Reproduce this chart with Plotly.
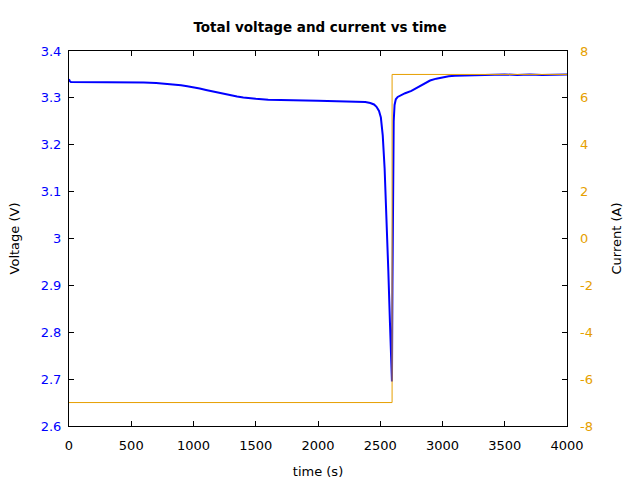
import plotly.graph_objects as go

# Voltage data
time_v = [0, 5, 15, 50, 100, 200, 300, 400, 500, 600, 700, 750, 800, 850, 900, 950,
          1000, 1050, 1100, 1150, 1200, 1250, 1300, 1350, 1400, 1450, 1500, 1600,
          1700, 1800, 2000, 2200, 2300, 2380, 2420, 2450, 2470, 2490, 2505, 2520,
          2535, 2550, 2565, 2578, 2588, 2594, 2598, 2602, 2608, 2615, 2625, 2640,
          2660, 2700, 2750, 2800, 2850, 2900, 2950, 3000, 3050, 3100, 3200, 3300, 3400,
          3500, 3600, 3700, 3800, 3900, 4000]
voltage = [3.340, 3.336, 3.334, 3.334, 3.334, 3.334, 3.333, 3.334, 3.333, 3.333,
           3.332, 3.331, 3.330, 3.329, 3.327, 3.325, 3.323, 3.320, 3.317, 3.314,
           3.311, 3.308, 3.305, 3.303, 3.301, 3.299, 3.298, 3.296, 3.295, 3.295,
           3.294, 3.293, 3.292, 3.291, 3.289, 3.286, 3.281, 3.272, 3.258, 3.220,
           3.150, 3.050, 2.930, 2.820, 2.730, 2.695, 2.900, 3.150, 3.250, 3.285,
           3.297, 3.302, 3.305, 3.310, 3.315, 3.322, 3.330, 3.337, 3.341, 3.344,
           3.346, 3.347, 3.348, 3.349, 3.349, 3.350, 3.349, 3.350, 3.349, 3.350,
           3.350]

# Current data
time_i = [0, 2595, 2595, 4000]
current = [-7, -7, 7, 7]

# Tick labels
x_ticks = [0, 500, 1000, 1500, 2000, 2500, 3000, 3500, 4000]
v_ticks = [2.6, 2.7, 2.8, 2.9, 3.0, 3.1, 3.2, 3.3, 3.4]
v_labels = ["2.6", "2.7", "2.8", "2.9", "3", "3.1", "3.2", "3.3", "3.4"]
i_ticks = [-8, -6, -4, -2, 0, 2, 4, 6, 8]
i_labels = ["-8", "-6", "-4", "-2", "0", "2", "4", "6", "8"]

BLUE = "#0000FF"
ORANGE = "#E69F00"
FONT = "DejaVu Sans"

fig = go.Figure()
fig.add_trace(go.Scatter(x=time_i, y=current, mode="lines", yaxis="y2",
                         line=dict(color=ORANGE, width=1), showlegend=False))
fig.add_trace(go.Scatter(x=time_v, y=voltage, mode="lines",
                         line=dict(color=BLUE, width=2), showlegend=False))

fig.update_layout(
    width=640, height=480,
    margin=dict(l=69, r=73, t=51, b=54, autoexpand=False),
    paper_bgcolor="white", plot_bgcolor="white",
    font=dict(family=FONT, size=13, color="black"),
    title=dict(text="<b>Total voltage and current vs time</b>", x=0.5, xanchor="center",
               y=1 - 27/480, yanchor="middle", font=dict(family=FONT, size=13.5, color="black")),
    xaxis=dict(range=[0, 4000], tickvals=x_ticks, automargin=False,
               ticks="inside", ticklen=5, tickcolor="black", showline=True, linecolor="black",
               linewidth=1, mirror="ticks", showgrid=False, zeroline=False,
               ticklabelstandoff=7,
               title=dict(text="time (s)", standoff=15, font=dict(size=13)),
               tickfont=dict(color="black", size=13)),
    yaxis=dict(range=[2.6, 3.4], tickvals=v_ticks, ticktext=v_labels, automargin=False,
               ticks="inside", ticklen=5, tickcolor="black", showline=True, linecolor="black",
               linewidth=1, mirror=True, showgrid=False, zeroline=False,
               ticklabelstandoff=4,
               tickfont=dict(color=BLUE, size=13),
               title=dict(text="Voltage (V)", standoff=18, font=dict(size=13))),
    yaxis2=dict(range=[-8, 8], tickvals=i_ticks, ticktext=i_labels, overlaying="y", side="right",
                automargin=False,
                ticks="inside", ticklen=5, tickcolor="black", showline=False,
                showgrid=False, zeroline=False, ticklabelstandoff=12,
                tickfont=dict(color=ORANGE, size=13),
                title=dict(text="Current (A)", standoff=19, font=dict(size=13))),
)

fig.write_html("out.html")
